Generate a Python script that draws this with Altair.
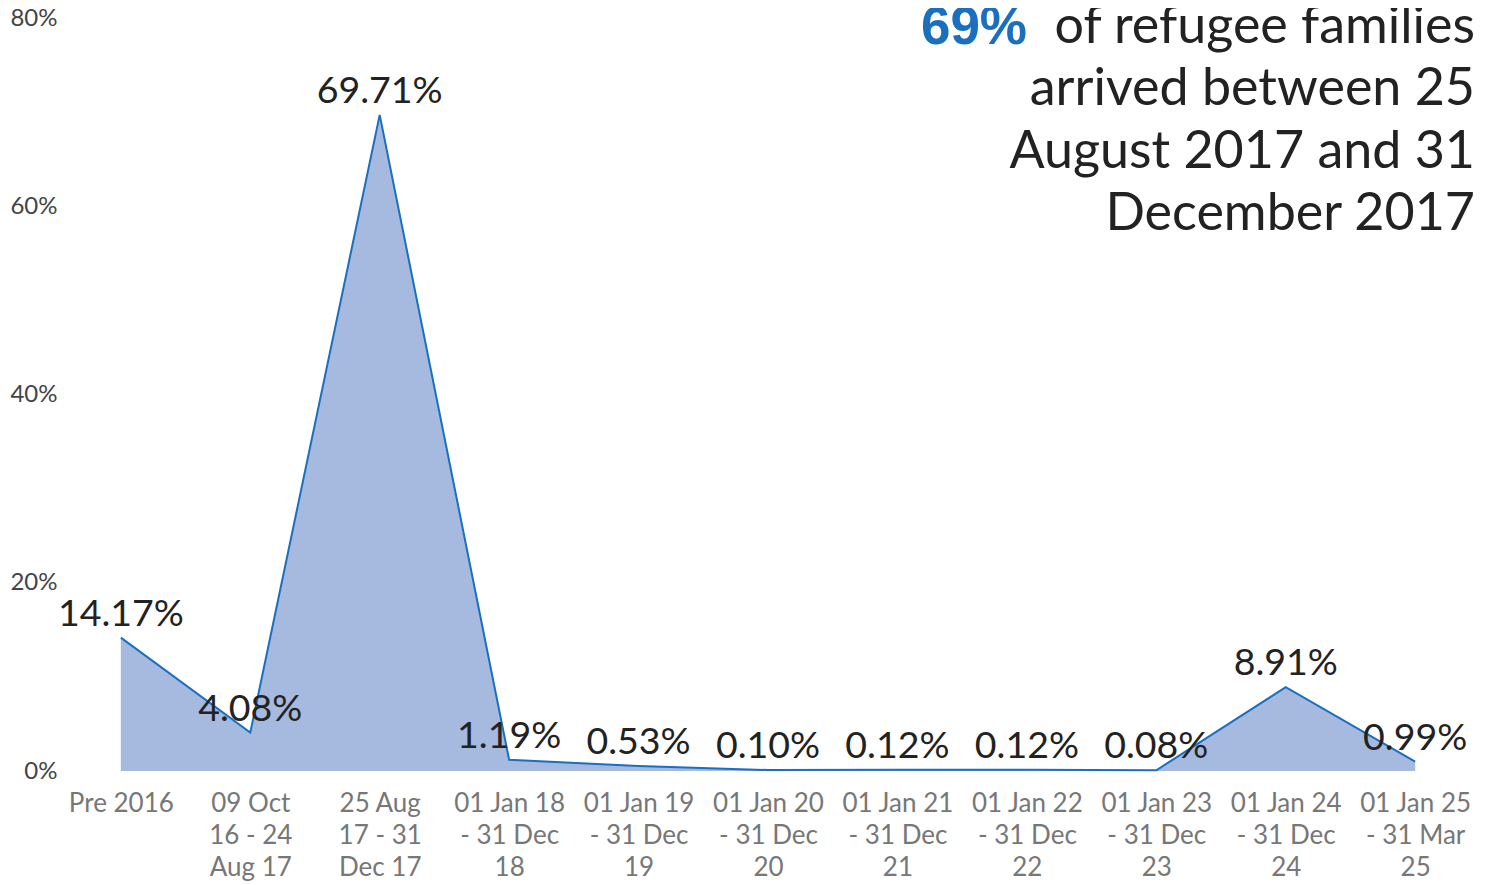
import altair as alt
import pandas as pd

categories = [
    "Pre 2016",
    "09 Oct\n16 - 24\nAug 17",
    "25 Aug\n17 - 31\nDec 17",
    "01 Jan 18\n- 31 Dec\n18",
    "01 Jan 19\n- 31 Dec\n19",
    "01 Jan 20\n- 31 Dec\n20",
    "01 Jan 21\n- 31 Dec\n21",
    "01 Jan 22\n- 31 Dec\n22",
    "01 Jan 23\n- 31 Dec\n23",
    "01 Jan 24\n- 31 Dec\n24",
    "01 Jan 25\n- 31 Mar\n25",
]
values = [14.17, 4.08, 69.71, 1.19, 0.53, 0.10, 0.12, 0.12, 0.08, 8.91, 0.99]
value_labels = ["14.17%", "4.08%", "69.71%", "1.19%", "0.53%", "0.10%",
                "0.12%", "0.12%", "0.08%", "8.91%", "0.99%"]
y_ticks = [0, 20, 40, 60, 80]

headline_number = "69%"
headline_lines = ["of refugee families", "arrived between 25",
                  "August 2017 and 31", "December 2017"]

df = pd.DataFrame({"cat": categories, "val": values, "lab": value_labels})

W, H = 1416, 753
FONT = "Lato"

x = alt.X("cat:N", sort=None, title=None,
          scale=alt.Scale(type="point", padding=0.47),
          axis=alt.Axis(labelExpr="split(datum.label, '\\n')", labelAngle=0,
                        labelFont=FONT, labelFontSize=26, labelColor="#777777",
                        labelLineHeight=32, labelPadding=19, ticks=False,
                        domain=False, labelBaseline="top"))
y = alt.Y("val:Q", title=None,
          scale=alt.Scale(domain=[0, 80], nice=False),
          axis=alt.Axis(values=y_ticks, labelExpr="datum.value + '%'",
                        labelFont=FONT, labelFontSize=24, labelColor="#444444",
                        ticks=False, domain=False, grid=False, labelPadding=3))

base = alt.Chart(df)
area = base.mark_area(color="#a6b9df", opacity=1).encode(x=x, y=y)
line = base.mark_line(color="#1a6fbf", strokeWidth=2).encode(x=x, y=y)
labels = base.mark_text(font=FONT, fontSize=37.5, color="#222222", dy=-23,
                        baseline="middle").encode(x=x, y=y, text="lab:N")

head_text = "\n".join(headline_lines)
head_lines = alt.Chart(pd.DataFrame({"t": [head_text]})).mark_text(
    font=FONT, fontSize=52, color="#222222", align="right", baseline="middle",
    lineBreak="\n", lineHeight=62.3
).encode(x=alt.value(W - 1), y=alt.value(9), text="t:N")

num = alt.Chart(pd.DataFrame({"t": [headline_number]})).mark_text(
    font="Liberation Sans", fontWeight="bold", fontSize=53, color="#1a6fbf",
    align="right", baseline="middle"
).encode(x=alt.value(967), y=alt.value(10), text="t:N")

chart = alt.layer(area, line, labels, head_lines, num).properties(
    width=W, height=H,
    autosize=alt.AutoSizeParams(type="none"),
    padding={"left": 52, "top": 10, "right": 4, "bottom": 110},
).configure_view(stroke=None)

chart.save("out.html", embed_options={"renderer": "svg", "actions": False})
